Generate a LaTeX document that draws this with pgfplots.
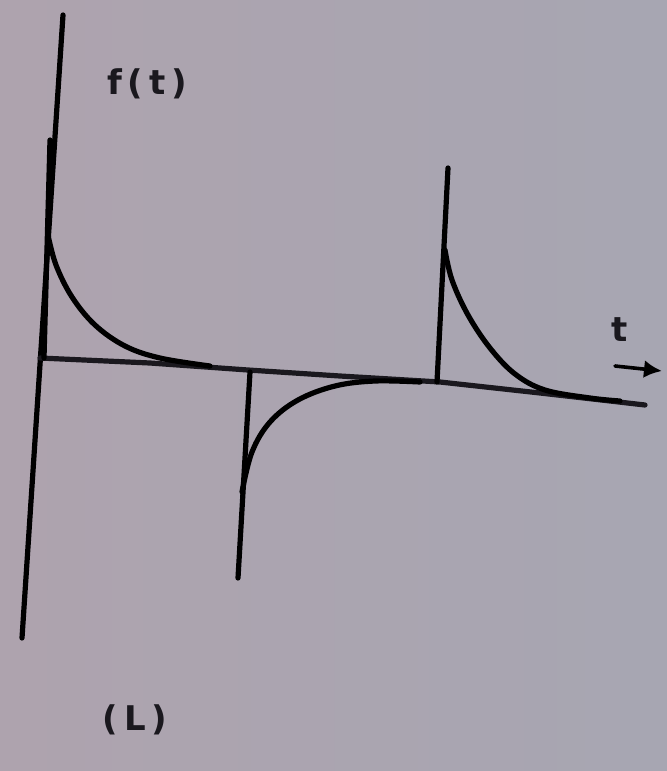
\documentclass[border=0pt]{standalone}
\usepackage{pgfplots}
\pgfplotsset{compat=1.18}
\usepackage{fontspec}
\setmainfont{DejaVu Sans}
\usetikzlibrary{arrows.meta}
\definecolor{paper}{RGB}{167,166,178}
\definecolor{paperpink}{RGB}{174,163,174}
\definecolor{ink}{RGB}{26,24,30}

\begin{document}
\begin{tikzpicture}
\begin{axis}[
  scale only axis, width=333.5pt, height=385.5pt,
  xmin=0, xmax=667, ymin=0, ymax=771, y dir=reverse,
  hide axis, clip=true,
  cycle list={{ink, mark=none}},
  every axis plot/.append style={line width=2.6pt, line cap=round, line join=round},
]
% sheet
\addplot[draw=none, left color=paperpink, right color=paper]
  coordinates {(0,0) (667,0) (667,771) (0,771)} -- cycle;
% hand-drawn axes
\addplot coordinates {(63,15) (22,638)};
\addplot coordinates {(40,358) (150,363) (248,370) (340,376) (440,382) (540,393) (645,405)};
% first positive spike and its decay
\addplot coordinates {(44,358) (50,140)};
\addplot[smooth, tension=0.6] coordinates {(48,235) (56,265) (72,297) (95,325) (125,346) (160,358) (210,366)};
% negative spike at the middle
\addplot coordinates {(250,372) (238,578)};
\addplot[smooth, tension=0.6] coordinates {(242,492) (252,452) (270,422) (298,400) (335,386) (375,381) (420,382)};
% second positive spike
\addplot coordinates {(437,382) (448,168)};
\addplot[smooth, tension=0.6] coordinates {(445,250) (452,280) (468,315) (490,348) (515,374) (545,390) (590,398) (620,401)};
% t-direction arrow
\addplot[line width=1.8pt, -{Latex[length=9pt,width=9pt]}] coordinates {(615,366) (662,371)};
\node[ink, font=\bfseries\fontsize{17}{20}\selectfont] at (axis cs:147,84) {f\,(\,t\,)};
\node[ink, font=\bfseries\fontsize{17}{20}\selectfont] at (axis cs:620,330) {t};
\node[ink, font=\bfseries\fontsize{17}{20}\selectfont] at (axis cs:135,720) {(\,L\,)};
\end{axis}
\end{tikzpicture}
\end{document}
